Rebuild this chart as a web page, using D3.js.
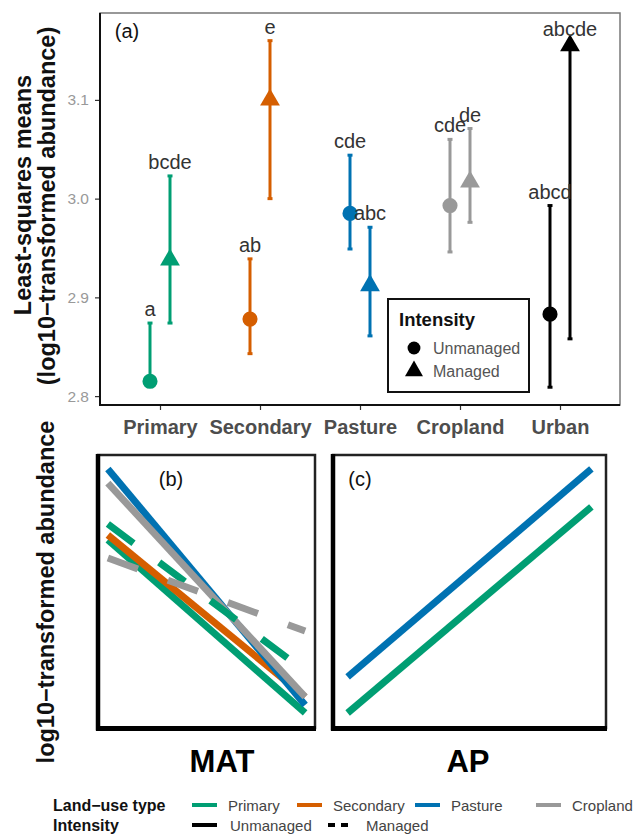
<!DOCTYPE html>
<html>
<head>
<meta charset="utf-8">
<script src="https://cdn.jsdelivr.net/npm/d3@7"></script>
<style>
  body { margin: 0; background: #fff; }
  svg { display: block; font-family: "Liberation Sans", Arial, sans-serif; }
</style>
</head>
<body>
<script>
// ---- data ----
const categories = ["Primary", "Secondary", "Pasture", "Cropland", "Urban"];
const intensities = ["Unmanaged", "Managed"];
const landColors = ["#009E73", "#D55E00", "#0072B2", "#999999", "#000000"];

// least-squares means (panel a)
const unmanagedMean  = [2.815, 2.878, 2.985, 2.993, 2.883];
const unmanagedLower = [2.810, 2.843, 2.949, 2.946, 2.809];
const unmanagedUpper = [2.874, 2.939, 3.044, 3.060, 2.993];
const managedMean    = [2.938, 3.100, 2.912, 3.017, 3.155];
const managedLower   = [2.874, 3.000, 2.861, 2.976, 2.858];
const managedUpper   = [3.023, 3.160, 2.971, 3.071, 3.158];
const unmanagedLetters = ["a", "ab", "cde", "cde", "abcd"];
const managedLetters   = ["bcde", "e", "abc", "de", "abcde"];
const yTicks = [2.8, 2.9, 3.0, 3.1];

// fitted lines (panel b, MAT) - relative response at low / high MAT
const matLandUse   = ["Primary", "Secondary", "Pasture", "Cropland", "Primary", "Cropland"];
const matIntensity = ["Unmanaged", "Unmanaged", "Unmanaged", "Unmanaged", "Managed", "Managed"];
const matAtLow     = [0.689, 0.707, 0.949, 0.897, 0.747, 0.623];
const matAtHigh    = [0.055, 0.114, 0.084, 0.114, 0.208, 0.355];

// fitted lines (panel c, AP)
const apLandUse   = ["Primary", "Pasture"];
const apIntensity = ["Unmanaged", "Unmanaged"];
const apAtLow     = [0.055, 0.187];
const apAtHigh    = [0.810, 0.949];

// legend entries (bottom)
const legendLand = ["Primary", "Secondary", "Pasture", "Cropland"];

// ---- setup ----
const W = 638, H = 834;
const svg = d3.select("body").append("svg").attr("width", W).attr("height", H);
svg.append("rect").attr("width", W).attr("height", H).attr("fill", "#fff");

const color = d3.scaleOrdinal(categories, landColors);

// ================= panel (a) =================
const a = {x0: 100, x1: 620, y0: 13, y1: 405};
const x = d3.scalePoint().domain(categories).range([a.x0, a.x1]).padding(0.6);
const dodge = d3.scalePoint().domain(intensities).range([-10, 10]);
const y = d3.scaleLinear().domain([2.791, 3.188]).range([a.y1, a.y0]);

let rows = [];
categories.forEach((c, i) => {
  rows.push({cat: c, int: "Unmanaged", mean: unmanagedMean[i], lo: unmanagedLower[i], hi: unmanagedUpper[i], lab: unmanagedLetters[i]});
  rows.push({cat: c, int: "Managed", mean: managedMean[i], lo: managedLower[i], hi: managedUpper[i], lab: managedLetters[i]});
});

svg.append("rect")
  .attr("x", a.x0).attr("y", a.y0)
  .attr("width", a.x1 - a.x0).attr("height", a.y1 - a.y0)
  .attr("fill", "none").attr("stroke", "#777").attr("stroke-width", 1.5);

// y axis
const gy = svg.append("g").attr("transform", `translate(${a.x0},0)`)
  .call(d3.axisLeft(y).tickValues(yTicks).tickFormat(d3.format(".1f")).tickSize(5).tickPadding(6));
gy.select(".domain").remove();
gy.selectAll(".tick line").attr("stroke", "#333").attr("stroke-width", 1.2);
gy.selectAll(".tick text").attr("fill", "#999").style("font-size", "15.5px");

// x axis
const gx = svg.append("g").attr("transform", `translate(0,${a.y1})`)
  .call(d3.axisBottom(x).tickSize(5).tickPadding(10));
gx.select(".domain").remove();
gx.selectAll(".tick line").attr("stroke", "#333").attr("stroke-width", 1.2);
gx.selectAll(".tick text").attr("fill", "#4d4d4d").style("font-size", "20px").style("font-weight", "bold");

// axis lines (left / bottom)
svg.append("line").attr("x1", a.x0).attr("x2", a.x0).attr("y1", a.y0).attr("y2", a.y1 + 1)
  .attr("stroke", "#111").attr("stroke-width", 2);
svg.append("line").attr("x1", a.x0 - 1).attr("x2", a.x1).attr("y1", a.y1).attr("y2", a.y1)
  .attr("stroke", "#111").attr("stroke-width", 2);

const px = d => x(d.cat) + dodge(d.int);

// error bars
const eb = svg.append("g").selectAll("g").data(rows).join("g")
  .attr("stroke", d => color(d.cat)).attr("stroke-width", 3);
eb.append("line").attr("x1", px).attr("x2", px)
  .attr("y1", d => y(d.lo)).attr("y2", d => y(d.hi));
eb.append("line").attr("x1", d => px(d) - 2.5).attr("x2", d => px(d) + 2.5)
  .attr("y1", d => y(d.lo)).attr("y2", d => y(d.lo));
eb.append("line").attr("x1", d => px(d) - 2.5).attr("x2", d => px(d) + 2.5)
  .attr("y1", d => y(d.hi)).attr("y2", d => y(d.hi));

// points
const shape = d3.scaleOrdinal(intensities, [d3.symbolCircle, d3.symbolTriangle]);
const shapeSize = d3.scaleOrdinal(intensities, [180, 170]);
svg.append("g").selectAll("path").data(rows).join("path")
  .attr("transform", d => `translate(${px(d)},${y(d.mean)})`)
  .attr("d", d => d3.symbol(shape(d.int), shapeSize(d.int))())
  .attr("fill", d => color(d.cat));

// letters
svg.append("g").selectAll("text").data(rows).join("text")
  .attr("x", px).attr("y", d => y(d.hi) - 7)
  .attr("text-anchor", "middle")
  .attr("fill", "#333").style("font-size", "20px")
  .text(d => d.lab);

svg.append("text").attr("x", 127).attr("y", 38).attr("text-anchor", "middle")
  .style("font-size", "20px").attr("fill", "#111").text("(a)");

// y title
const yt = svg.append("g").attr("font-weight", "bold").style("font-size", "23.5px").attr("fill", "#111");
yt.append("text").attr("transform", "translate(31,195) rotate(-90)").attr("text-anchor", "middle")
  .text("Least-squares means");
yt.append("text").attr("transform", "translate(55,206) rotate(-90)").attr("text-anchor", "middle")
  .text("(log10\u2212transformed abundance)");

// legend in panel a
const lg = svg.append("g");
lg.append("rect").attr("x", 388).attr("y", 299).attr("width", 141).attr("height", 93)
  .attr("fill", "#fff").attr("stroke", "#111").attr("stroke-width", 2);
lg.append("text").attr("x", 399).attr("y", 326).attr("font-weight", "bold")
  .style("font-size", "18.5px").attr("fill", "#111").text("Intensity");
intensities.forEach((k, i) => {
  const yy = 348 + i * 23;
  lg.append("path").attr("transform", `translate(414,${yy})`)
    .attr("d", d3.symbol(shape(k), i ? 140 : 130)()).attr("fill", "#000");
  lg.append("text").attr("x", 433).attr("y", yy + 6).style("font-size", "16px")
    .attr("fill", "#555").text(k);
});

// ================= panels (b) and (c) =================
const b = {x0: 98, x1: 315, y0: 455, y1: 728};
const c = {x0: 333, x1: 606, y0: 455, y1: 728};

function panel(p, xDomain, lu, inten, lo, hi, tag, tagX, title, titleX) {
  const sx = d3.scaleLinear().domain(xDomain).range([p.x0, p.x1]);
  const sy = d3.scaleLinear().domain([0, 1]).range([p.y1, p.y0]);
  const g = svg.append("g");
  g.append("rect").attr("x", p.x0).attr("y", p.y0).attr("width", p.x1 - p.x0).attr("height", p.y1 - p.y0)
    .attr("fill", "#fff").attr("stroke", "#222").attr("stroke-width", 2.5);
  g.append("line").attr("x1", p.x0).attr("x2", p.x0).attr("y1", p.y0 - 1).attr("y2", p.y1 + 2.5)
    .attr("stroke", "#000").attr("stroke-width", 4.5);
  g.append("line").attr("x1", p.x0 - 2).attr("x2", p.x1 + 1).attr("y1", p.y1 + 0.5).attr("y2", p.y1 + 0.5)
    .attr("stroke", "#000").attr("stroke-width", 5);
  const fits = lu.map((l, i) => ({lu: l, int: inten[i], v: [[0, lo[i]], [1, hi[i]]]}));
  // solid first, dashed on top
  fits.sort((m, n) => (m.int === "Managed") - (n.int === "Managed"));
  const line = d3.line().x(d => sx(d[0])).y(d => sy(d[1]));
  g.selectAll("path.fit").data(fits).join("path").attr("class", "fit")
    .attr("d", d => line(d.v))
    .attr("fill", "none").attr("stroke", d => color(d.lu))
    .attr("stroke-width", 7).attr("stroke-linecap", "butt")
    .attr("stroke-dasharray", d => d.int === "Managed" ? "32,32" : null);
  g.append("text").attr("x", tagX).attr("y", 486).attr("text-anchor", "middle")
    .style("font-size", "20px").attr("fill", "#111").text(tag);
  g.append("text").attr("x", titleX).attr("y", 772).attr("text-anchor", "middle")
    .attr("font-weight", "bold").style("font-size", "31px").attr("fill", "#000").text(title);
}

panel(b, [-0.05, 1.05], matLandUse, matIntensity, matAtLow, matAtHigh, "(b)", 171, "MAT", 222);
panel(c, [-0.06, 1.06], apLandUse, apIntensity, apAtLow, apAtHigh, "(c)", 360, "AP", 468);

svg.append("text").attr("transform", "translate(54,592) rotate(-90)").attr("text-anchor", "middle")
  .attr("font-weight", "bold").style("font-size", "23.5px").attr("fill", "#111")
  .text("log10\u2212transformed abundance");

// ================= bottom legend =================
const bl = svg.append("g");
bl.append("text").attr("x", 53).attr("y", 811).attr("font-weight", "bold")
  .style("font-size", "16px").attr("fill", "#111").text("Land\u2212use type");
bl.append("text").attr("x", 53).attr("y", 831).attr("font-weight", "bold")
  .style("font-size", "16px").attr("fill", "#111").text("Intensity");
const landKeyX = [192, 297, 415, 536];
legendLand.forEach((k, i) => {
  bl.append("line").attr("x1", landKeyX[i]).attr("x2", landKeyX[i] + 25).attr("y1", 805).attr("y2", 805)
    .attr("stroke", color(k)).attr("stroke-width", 4);
  bl.append("text").attr("x", landKeyX[i] + 36).attr("y", 811).style("font-size", "15px")
    .attr("fill", "#444").text(k);
});
const intKeyX = [192, 328];
intensities.forEach((k, i) => {
  bl.append("line").attr("x1", intKeyX[i]).attr("x2", intKeyX[i] + 25).attr("y1", 825).attr("y2", 825)
    .attr("stroke", "#000").attr("stroke-width", 4)
    .attr("stroke-dasharray", k === "Managed" ? "7,6" : null);
  bl.append("text").attr("x", intKeyX[i] + 38).attr("y", 831).style("font-size", "15px")
    .attr("fill", "#444").text(k);
});
</script>
</body>
</html>
